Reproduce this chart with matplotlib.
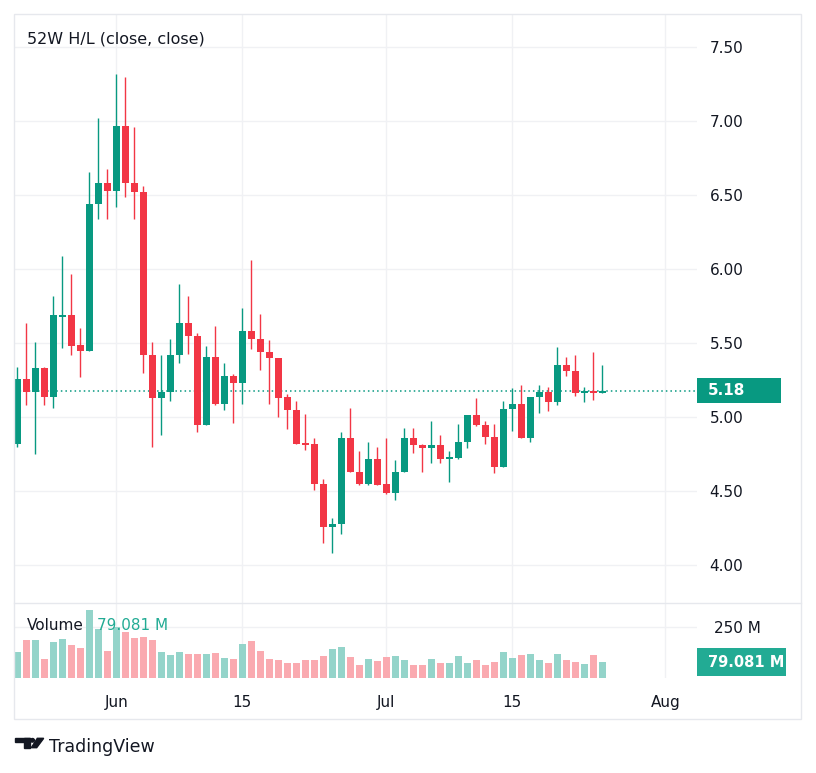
import matplotlib
matplotlib.use('Agg')
import matplotlib.pyplot as plt
import matplotlib.dates as mdates
from matplotlib.patches import Rectangle, Circle, Polygon
from matplotlib.lines import Line2D
from matplotlib.transforms import blended_transform_factory
import numpy as np
import pandas as pd

# daily candles, 21 May -> 25 Jul
dates = pd.date_range('2024-05-21', '2024-07-25', freq='D')

opens = np.array([4.82, 5.26, 5.17, 5.33, 5.14, 5.68, 5.69, 5.49, 5.45, 6.44, 6.58,
                  6.53, 6.97, 6.58, 6.52, 5.42, 5.13, 5.17, 5.42, 5.64, 5.55,
                  4.95, 5.41, 5.09, 5.28, 5.23, 5.58, 5.53, 5.44, 5.40, 5.14,
                  5.05, 4.82, 4.82, 4.55, 4.26, 4.28, 4.86, 4.63, 4.55, 4.72,
                  4.55, 4.485, 4.63, 4.86, 4.815, 4.79, 4.815, 4.72, 4.725, 4.83,
                  5.015, 4.945, 4.865, 4.665, 5.055, 5.09, 4.86, 5.14, 5.17, 5.105,
                  5.355, 5.31, 5.165, 5.18, 5.165])
highs = np.array([5.34, 5.64, 5.51, 5.34, 5.82, 6.09, 5.97, 5.60, 6.66, 7.02, 6.68,
                  7.32, 7.30, 6.96, 6.56, 5.51, 5.42, 5.53, 5.90, 5.82, 5.57,
                  5.48, 5.62, 5.37, 5.29, 5.74, 6.06, 5.70, 5.52, 5.40, 5.16,
                  5.11, 5.02, 4.86, 4.58, 4.32, 4.90, 5.06, 4.77, 4.83, 4.80,
                  4.86, 4.71, 4.93, 4.93, 4.82, 4.975, 4.88, 4.77, 4.955, 5.015,
                  5.13, 4.975, 4.955, 5.11, 5.20, 5.22, 5.14, 5.22, 5.205, 5.475,
                  5.41, 5.42, 5.205, 5.44, 5.35])
lows = np.array([4.80, 5.08, 4.75, 5.08, 5.06, 5.47, 5.42, 5.27, 5.45, 6.34, 6.34,
                 6.42, 6.49, 6.34, 5.30, 4.80, 4.88, 5.11, 5.37, 5.43, 4.90,
                 4.95, 5.08, 5.05, 4.96, 5.09, 5.46, 5.32, 5.09, 5.00, 4.92,
                 4.82, 4.78, 4.51, 4.15, 4.08, 4.21, 4.63, 4.54, 4.545, 4.54,
                 4.48, 4.44, 4.63, 4.76, 4.63, 4.69, 4.69, 4.56, 4.72, 4.795,
                 4.94, 4.82, 4.625, 4.665, 4.91, 4.86, 4.83, 5.03, 5.04, 5.085,
                 5.28, 5.145, 5.10, 5.12, 5.165])
closes = np.array([5.26, 5.17, 5.33, 5.14, 5.69, 5.69, 5.48, 5.45, 6.44, 6.58, 6.53,
                   6.97, 6.58, 6.52, 5.42, 5.13, 5.17, 5.42, 5.64, 5.55, 4.95,
                   5.41, 5.09, 5.28, 5.23, 5.58, 5.53, 5.44, 5.40, 5.13, 5.05,
                   4.82, 4.815, 4.55, 4.26, 4.28, 4.86, 4.63, 4.55, 4.72, 4.545,
                   4.485, 4.63, 4.86, 4.815, 4.79, 4.815, 4.72, 4.725, 4.83, 5.015,
                   4.945, 4.865, 4.665, 5.055, 5.09, 4.86, 5.14, 5.17, 5.105, 5.355,
                   5.31, 5.165, 5.18, 5.165, 5.18])
# volume in millions
volumes = np.array([129, 188, 188, 94, 178, 193, 163, 149, 337, 243, 134,
                    252, 228, 198, 203, 188, 129, 114, 129, 119, 119,
                    119, 124, 99, 94, 168, 183, 134, 94, 89, 74,
                    74, 89, 89, 109, 144, 153, 104, 64, 94, 84,
                    104, 109, 89, 64, 64, 94, 74, 74, 109, 74,
                    89, 64, 79, 129, 99, 114, 119, 89, 74, 119,
                    89, 79, 69, 114, 79.081])

price_ticks = [4.0, 4.5, 5.0, 5.5, 6.0, 6.5, 7.0, 7.5]
time_ticks = pd.to_datetime(['2024-06-01', '2024-06-15', '2024-07-01', '2024-07-15', '2024-08-01'])
time_labels = ['Jun', '15', 'Jul', '15', 'Aug']

GREEN = '#089981'
RED = '#f23645'
GREEN_V = '#94d4ca'
RED_V = '#faaab0'
GRID = '#f0f1f4'
TXT = '#131722'
FRAME = '#e6e8ed'

W, H = 816, 773
fig = plt.figure(figsize=(W / 100, H / 100), dpi=100)


def fx(px):
    return px / W


def fy(py):
    return 1 - py / H


ax = fig.add_axes([fx(15), fy(603), fx(697) - fx(15), fy(15) - fy(603)])
axv = fig.add_axes([fx(15), fy(678), fx(697) - fx(15), fy(603) - fy(678)], sharex=ax)

x = mdates.date2num(dates)
up = closes >= opens
cols = np.where(up, GREEN, RED)
vcols = np.where(up, GREEN_V, RED_V)

ax.vlines(x, lows, highs, colors=cols, linewidth=1, zorder=2)
body_lo = np.minimum(opens, closes)
body_h = np.maximum(np.abs(closes - opens), 0.009)
ax.bar(x, body_h, bottom=body_lo, width=0.78, color=cols, zorder=3)

last = closes[-1]
ax.axhline(last, color=GREEN, linestyle=(0, (1, 2)), linewidth=1.1, zorder=1)

jun1 = mdates.date2num(pd.Timestamp('2024-06-01'))
ax.set_xlim(jun1 - 11.26, jun1 + 64.52)
ax.set_ylim(3.745, 7.718)

ax.yaxis.tick_right()
ax.set_yticks(price_ticks)
ax.set_yticklabels(['%.2f' % t for t in price_ticks])
ax.tick_params(axis='y', length=0, pad=9, labelsize=11, labelcolor=TXT)
ax.set_xticks(mdates.date2num(time_ticks))
ax.tick_params(axis='x', length=0, labelbottom=False)
ax.grid(True, color=GRID, linewidth=1)
ax.set_axisbelow(True)

# volume pane
axv.bar(x, volumes, width=0.84, color=vcols, zorder=2)
axv.set_ylim(0, 371)
axv.yaxis.tick_right()
axv.set_yticks([250])
axv.set_yticklabels(['250 M'])
axv.tick_params(axis='y', length=0, pad=12, labelsize=11, labelcolor=TXT)
axv.set_xticks(mdates.date2num(time_ticks))
axv.set_xticklabels(time_labels)
axv.tick_params(axis='x', length=0, pad=12, labelsize=11, labelcolor=TXT)
axv.grid(True, color=GRID, linewidth=1)
axv.set_axisbelow(True)

for a in (ax, axv):
    for s in a.spines.values():
        s.set_visible(False)

# last price tag
tr = blended_transform_factory(ax.transAxes, ax.transData)
ax.add_patch(Rectangle((1.0, last - 0.085), 84 / 682, 0.17, transform=tr,
                       facecolor=GREEN, edgecolor='none', clip_on=False, zorder=5))
ax.text(1 + 11 / 682, last, '%.2f' % last, transform=tr, color='white',
        fontsize=11, fontweight='bold', va='center', ha='left', clip_on=False, zorder=6)

# last volume tag
trv = blended_transform_factory(axv.transAxes, axv.transData)
axv.add_patch(Rectangle((1.0, volumes[-1] - 67), 89 / 682, 134, transform=trv,
                        facecolor='#22ab94', edgecolor='none', clip_on=False, zorder=5))
axv.text(1 + 11 / 682, volumes[-1], '%.3f M' % volumes[-1], transform=trv, color='white',
         fontsize=10.5, fontweight='semibold', va='center', ha='left', clip_on=False, zorder=6)

# legends
fig.text(fx(27), fy(39), '52W H/L (close, close)', fontsize=11.5, color=TXT, va='center')
fig.text(fx(27), fy(626), 'Volume', fontsize=11, color=TXT, va='center')
fig.text(fx(97), fy(626), '%.3f M' % volumes[-1], fontsize=11, color='#22ab94', va='center')

# frame + pane separator
fig.add_artist(Rectangle((fx(14), fy(719)), fx(801) - fx(14), fy(14) - fy(719),
                         fill=False, edgecolor=FRAME, linewidth=1, transform=fig.transFigure))
fig.add_artist(Line2D([fx(14), fx(801)], [fy(603), fy(603)], color=FRAME,
                      linewidth=1, transform=fig.transFigure))

# TradingView logo
fig.add_artist(Rectangle((fx(15), fy(742)), fx(30) - fx(15), fy(738.3) - fy(742),
                         color=TXT, transform=fig.transFigure))
fig.add_artist(Rectangle((fx(24), fy(747.7)), fx(30) - fx(24), fy(738.3) - fy(747.7),
                         color=TXT, transform=fig.transFigure))
fig.add_artist(Polygon([(fx(37.3), fy(738.3)), (fx(43.7), fy(738.3)),
                        (fx(36.7), fy(747.7)), (fx(31.3), fy(747.7))],
                       closed=True, color=TXT, transform=fig.transFigure))
fig.add_artist(Circle((fx(32.5), fy(740.3)), 1.9 / W, color=TXT, transform=fig.transFigure))
fig.text(fx(49), fy(747), 'TradingView', fontsize=12.5, color=TXT, va='center')

plt.savefig('out.png', dpi=100)
plt.close()
